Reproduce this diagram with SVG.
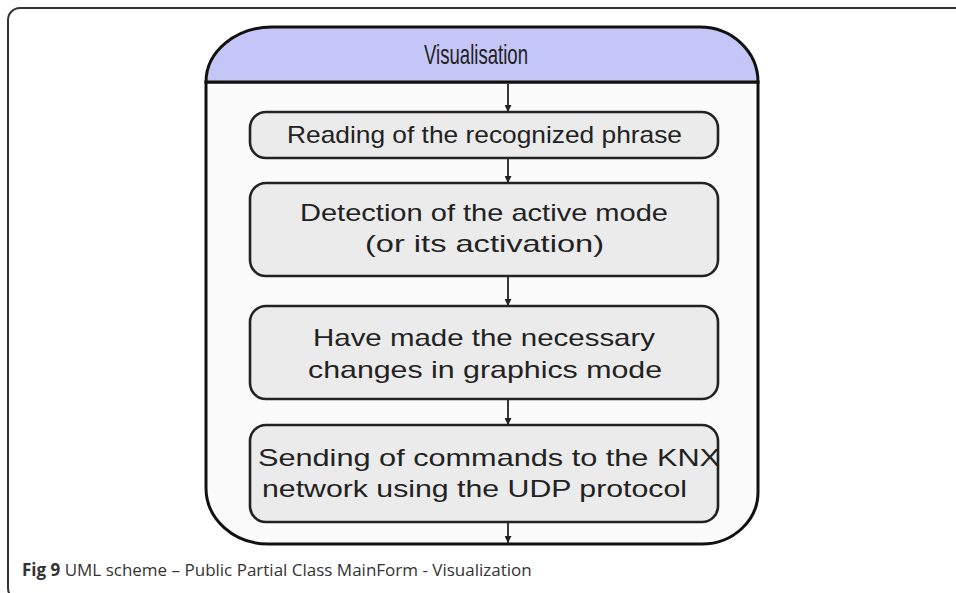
<svg xmlns="http://www.w3.org/2000/svg" width="956" height="593" viewBox="0 0 956 593">
<defs>
<marker id="ah" viewBox="0 0 10 10" refX="10" refY="5" markerWidth="7" markerHeight="7" orient="auto" markerUnits="userSpaceOnUse">
<path d="M0,0 L10,5 L0,10 z" fill="#222"/>
</marker>
</defs>
<style>
.box{fill:#ebebeb;stroke:#222;stroke-width:2.6}
.t{font-family:"Liberation Sans",Arial,sans-serif;font-size:24px;fill:#222}
.conn{stroke:#222;stroke-width:1.8;fill:none;marker-end:url(#ah)}
.cap{font-family:"Open Sans","Noto Sans",sans-serif;font-size:17px;fill:#333}
</style>
<rect x="0" y="0" width="956" height="593" fill="#ffffff"/>
<rect x="8" y="8" width="970" height="592" rx="12" fill="none" stroke="#333" stroke-width="2"/>
<g id="container">
<path d="M206,82 L206,488 A62,56 0 0 0 268,544 L702,544 A56,52 0 0 0 758,492 L758,82 Z" fill="#fbfbfb" stroke="#111" stroke-width="3"/>
<path d="M206,82 A66,55 0 0 1 272,27 L700,27 A58,55 0 0 1 758,82 Z" fill="#c4c6f7" stroke="#111" stroke-width="3"/>
<text x="424" y="64" style="font-family:'Liberation Sans',Arial,sans-serif;font-size:28px;fill:#222" textLength="104" lengthAdjust="spacingAndGlyphs">Visualisation</text>
</g>
<g id="connectors">
<line class="conn" x1="508" y1="84" x2="508" y2="112"/>
<line class="conn" x1="508" y1="158" x2="508" y2="183"/>
<line class="conn" x1="508" y1="276" x2="508" y2="306"/>
<line class="conn" x1="508" y1="399" x2="508" y2="425"/>
<line class="conn" x1="508" y1="522" x2="508" y2="543"/>
</g>
<g id="n1">
<rect class="box" x="250" y="112" width="468" height="46" rx="16"/>
<text class="t" x="287" y="143" textLength="395" lengthAdjust="spacingAndGlyphs">Reading of the recognized phrase</text>
</g>
<g id="n2">
<rect class="box" x="250" y="183" width="468" height="93" rx="16"/>
<text class="t" x="300" y="221" textLength="368" lengthAdjust="spacingAndGlyphs">Detection of the active mode</text>
<text class="t" x="365" y="252" textLength="239" lengthAdjust="spacingAndGlyphs">(or its activation)</text>
</g>
<g id="n3">
<rect class="box" x="250" y="306" width="468" height="93" rx="16"/>
<text class="t" x="313" y="346" textLength="342" lengthAdjust="spacingAndGlyphs">Have made the necessary</text>
<text class="t" x="308" y="378" textLength="354" lengthAdjust="spacingAndGlyphs">changes in graphics mode</text>
</g>
<g id="n4">
<rect class="box" x="250" y="425" width="468" height="97" rx="16"/>
<text class="t" x="258" y="466" textLength="462" lengthAdjust="spacingAndGlyphs">Sending of commands to the KNX</text>
<text class="t" x="262" y="497" textLength="425" lengthAdjust="spacingAndGlyphs">network using the UDP protocol</text>
</g>
<text class="cap" x="22" y="576"><tspan font-weight="bold">Fig 9</tspan> UML scheme – Public Partial Class MainForm - Visualization</text>
</svg>
